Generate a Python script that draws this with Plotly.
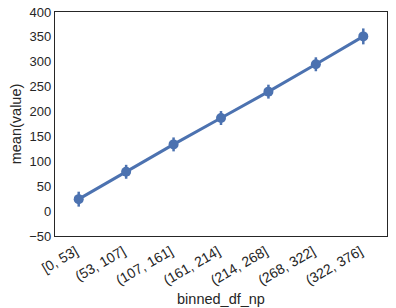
import plotly.graph_objects as go

categories = ["[0, 53]", "(53, 107]", "(107, 161]", "(161, 214]", "(214, 268]", "(268, 322]", "(322, 376]"]
means = [24, 79, 134, 187, 240, 295, 351]
errors = [15, 14, 14, 14, 14, 14, 16]

fig = go.Figure()
fig.add_trace(go.Scatter(
    x=categories, y=means, mode="lines+markers",
    line=dict(color="#4C72B0", width=3),
    marker=dict(color="#4C72B0", size=10),
    error_y=dict(type="data", array=errors, color="#4C72B0", thickness=2.5, width=0),
    showlegend=False,
))
fig.update_layout(
    width=396, height=308,
    margin=dict(l=55, r=9, t=12, b=72),
    paper_bgcolor="white", plot_bgcolor="white",
    font=dict(family="Liberation Sans, Arial, sans-serif", size=13, color="#262626"),
)
fig.update_xaxes(
    title=dict(text="binned_df_np", font=dict(size=14.5), standoff=6),
    tickangle=-30, range=[-0.5, 6.5], showgrid=False, tickfont=dict(size=14),
    ticklabelstandoff=1, ticklabelshift=-3, automargin=False,
    showline=True, linecolor="#262626", linewidth=1.2, mirror=True, ticks="",
)
fig.update_yaxes(
    title=dict(text="mean(value)", font=dict(size=14.5), standoff=4),
    range=[-50, 400], dtick=50, showgrid=False, zeroline=False, automargin=False,
    showline=True, linecolor="#262626", linewidth=1.2, mirror=True, ticks="",
    tickformat="d",
)
fig.write_html("out.html")
